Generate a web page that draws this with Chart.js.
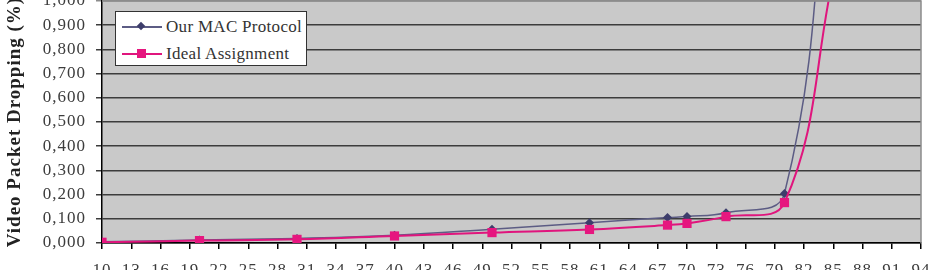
<!DOCTYPE html>
<html>
<head>
<meta charset="utf-8">
<script src="https://cdn.jsdelivr.net/npm/chart.js@4/dist/chart.umd.min.js"></script>
<style>
  html, body { margin: 0; padding: 0; background: #fff; overflow: hidden; }
  .container { position: relative; width: 930px; height: 270px; }
  #drop-chart { position: absolute; left: 0; top: 0; }
  .legend {
    position: absolute; left: 115px; top: 11px; width: 190px; height: 53px;
    background: #fff; border: 1.5px solid #333;
    font-family: "Liberation Serif", serif; font-size: 17px; color: #333; letter-spacing: 0.3px;
  }
  .legend .row { position: absolute; left: 0; height: 20px; width: 100%; }
  .legend .line { position: absolute; left: 6px; top: 9px; width: 40px; height: 2px; }
  .legend .mark { position: absolute; }
  .legend .label { position: absolute; left: 50px; top: 0; line-height: 20px; white-space: nowrap; }
</style>
</head>
<body>
<div class="container">
  <canvas id="drop-chart" width="930" height="270"></canvas>
  <div class="legend">
    <div class="row" style="top:5px">
      <div class="line" style="background:#5c5c84"></div>
      <div class="mark" style="left:22px;top:6px;width:6px;height:6px;background:#3d3d6b;transform:rotate(45deg)"></div>
      <div class="label">Our MAC Protocol</div>
    </div>
    <div class="row" style="top:32px">
      <div class="line" style="background:#e0157d"></div>
      <div class="mark" style="left:21px;top:5px;width:9px;height:9px;background:#e6167f"></div>
      <div class="label">Ideal Assignment</div>
    </div>
  </div>
</div>
<script>
// values
const xValues = [10, 20, 30, 40, 50, 60, 68, 70, 74, 80, 85];
const macProtocol = [0.005, 0.012, 0.019, 0.032, 0.057, 0.084, 0.105, 0.109, 0.125, 0.205, 1.9];
const idealAssignment = [0.003, 0.010, 0.015, 0.029, 0.043, 0.056, 0.074, 0.081, 0.109, 0.167, 1.1];
const xTickLabels = [10, 13, 16, 19, 22, 25, 28, 31, 34, 37, 40, 43, 46, 49, 52, 55, 58, 61, 64, 67, 70, 73, 76, 79, 82, 85, 88, 91, 94];
const yTickValues = [0, 0.1, 0.2, 0.3, 0.4, 0.5, 0.6, 0.7, 0.8, 0.9, 1.0];

const chart = document.getElementById("drop-chart");

//gray plot area, frame and text spacing
const plotArea = {
  id: "plotArea",
  beforeDraw(c) {
    const {ctx, chartArea: a} = c;
    ctx.save();
    ctx.fillStyle = "#c9c9c9";
    ctx.fillRect(a.left, a.top, a.right - a.left, a.bottom - a.top);
    ctx.restore();
    ctx.letterSpacing = "1px";
  },
  afterDraw(c) {
    const {ctx, chartArea: a} = c;
    ctx.letterSpacing = "0px";
    ctx.save();
    ctx.strokeStyle = "#8c8c8c";
    ctx.lineWidth = 1.5;
    ctx.beginPath();
    ctx.moveTo(a.left, a.top);
    ctx.lineTo(a.right, a.top);
    ctx.lineTo(a.right, a.bottom);
    ctx.stroke();
    ctx.restore();
  }
};

function toPoints(ys) {
  return xValues.map((x, i) => ({x: x, y: ys[i]}));
}

new Chart(chart, {
  type: "line",
  data: {
    datasets: [{
      label: "Our MAC Protocol",
      data: toPoints(macProtocol),
      borderColor: "#5c5c84",
      borderWidth: 1.5,
      pointStyle: "rectRot",
      pointRadius: 4.5,
      pointBackgroundColor: "#3d3d6b",
      pointBorderWidth: 0,
      tension: 0.4,
      order: 1
    }, {
      label: "Ideal Assignment",
      data: toPoints(idealAssignment),
      borderColor: "#e0157d",
      borderWidth: 2,
      pointStyle: "rect",
      pointRadius: 6.5,
      pointBackgroundColor: "#e6167f",
      pointBorderWidth: 0,
      tension: 0.4,
      order: 0
    }]
  },
  options: {
    responsive: false,
    animation: false,
    layout: {autoPadding: false, padding: {top: 1, right: 9, left: 0, bottom: 0}},
    elements: {line: {capBezierPoints: false}},
    plugins: {legend: {display: false}, tooltip: {enabled: false}},
    scales: {
      x: {
        type: "linear",
        min: 10,
        max: 94,
        afterBuildTicks: (s) => { s.ticks = xTickLabels.map(v => ({value: v})); },
        afterFit: (s) => { s.height = 27; s.paddingLeft = 0; s.paddingRight = 0; },
        grid: {drawOnChartArea: false, drawTicks: true, tickLength: 6, color: "#000", lineWidth: 1.5},
        border: {color: "#000", width: 1.5},
        ticks: {
          autoSkip: false, maxRotation: 0, padding: 11, color: "#3c3c3c",
          font: {family: "Liberation Serif", size: 17}
        }
      },
      y: {
        min: 0,
        max: 1,
        afterBuildTicks: (s) => { s.ticks = yTickValues.map(v => ({value: v})); },
        afterFit: (s) => { s.width = 102; s.paddingTop = 0; s.paddingBottom = 0; },
        grid: {
          color: (ctx) => (ctx.tick && ctx.tick.value === 1 ? "#8c8c8c" : "#3c3c3c"),
          lineWidth: 1.5, tickLength: 6
        },
        border: {color: "#000", width: 1.5},
        ticks: {
          padding: 10, color: "#3c3c3c",
          font: {family: "Liberation Serif", size: 17},
          callback: (v) => v.toFixed(3).replace(".", ",")
        },
        title: {
          display: true,
          text: "Video Packet Dropping (%)",
          color: "#222",
          padding: {top: 4, bottom: 0},
          font: {family: "Liberation Serif", size: 19, weight: "bold", lineHeight: 1.2}
        }
      }
    }
  },
  plugins: [plotArea]
});
</script>
</body>
</html>
